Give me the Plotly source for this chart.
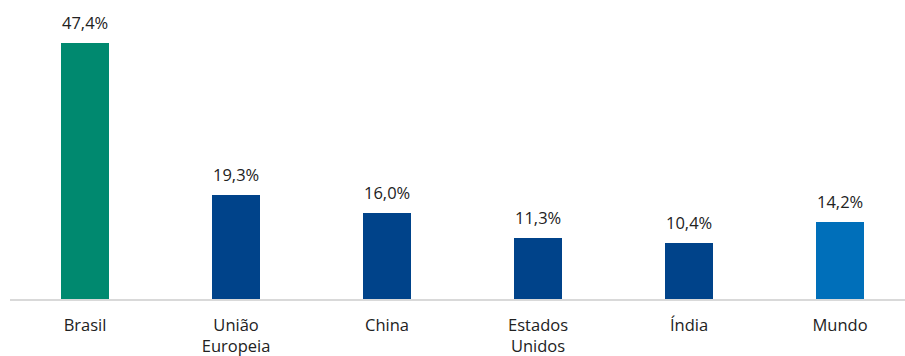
import plotly.graph_objects as go

# Categories and values (percent)
categorias = ["Brasil", "União<br>Europeia", "China", "Estados<br>Unidos", "Índia", "Mundo"]
valores = [47.4, 19.3, 16.0, 11.3, 10.4, 14.2]
cores = ["#00896F", "#00438A", "#00438A", "#00438A", "#00438A", "#006FBA"]

rotulos = [f"{v:.1f}%".replace(".", ",") for v in valores]
x = list(range(len(categorias)))

fig = go.Figure()
fig.add_trace(go.Bar(
    x=x, y=valores, marker=dict(color=cores, line=dict(width=0)),
    width=0.318, hoverinfo="skip", showlegend=False,
))

for xi, v, t in zip(x, valores, rotulos):
    fig.add_annotation(x=xi, y=v, text=t, showarrow=False, yanchor="bottom",
                       yshift=7, font=dict(size=16.5, color="#222222"))

fig.update_layout(
    width=905, height=356,
    margin=dict(l=10, r=0, t=0, b=57),
    paper_bgcolor="white", plot_bgcolor="white",
    font=dict(family="Open Sans", size=16.5, color="#222222"),
    bargap=0,
)
fig.update_xaxes(
    tickmode="array", tickvals=x, ticktext=categorias,
    range=[-0.497, 5.43], showgrid=False, zeroline=False,
    showline=True, linecolor="#d9d9d9", linewidth=2, automargin=False,
    ticks="", ticklabelstandoff=10, tickfont=dict(size=16.5, color="#222222"),
)
fig.update_yaxes(range=[0, 55.4], visible=False, showgrid=False, zeroline=False,
                 automargin=False)

fig.write_html("out.html")
